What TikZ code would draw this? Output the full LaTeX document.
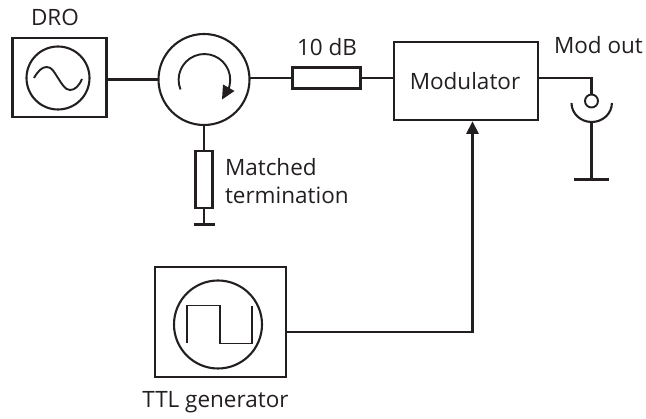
\documentclass[tikz,border=0pt]{standalone}
\usepackage{fontspec}
\setmainfont{Open Sans}
\usetikzlibrary{arrows.meta,calc}
\definecolor{ink}{HTML}{231F20}
\tikzset{
  box/.style={draw=ink,line width=2.1pt,rectangle,inner sep=0pt,outer sep=0pt},
  ring/.style={draw=ink,line width=2.1pt,circle,inner sep=0pt,outer sep=0pt},
  lbl/.style={text=ink,font=\fontsize{22.5}{26}\selectfont,inner sep=0pt,outer sep=0pt},
  wire/.style={draw=ink,line width=2.1pt},
  thinwire/.style={draw=ink,line width=1.9pt},
}
\begin{document}
\begin{tikzpicture}[x=1pt,y=-1pt]
\useasboundingbox (0,0) rectangle (646,419);
% boxes
\node[box,minimum width=94pt,minimum height=79pt] (dro) at (59.5,77.5) {};
\node[ring,minimum size=63pt] (droc) at (58,78) {};
\node[ring,minimum size=91pt] (circ) at (204,79.5) {};
\node[box,minimum width=68pt,minimum height=21pt] (att) at (326.5,78) {};
\node[box,minimum width=144pt,minimum height=78pt] (mod) at (466,81) {};
\node[box,minimum width=17pt,minimum height=57pt] (term) at (204,179.5) {};
\node[box,minimum width=131pt,minimum height=110pt] (ttl) at (220.5,322) {};
\node[ring,minimum size=88pt] (ttlc) at (218,324.5) {};
\node[ring,minimum size=13pt,line width=1.9pt] (ant) at (591.5,101) {};
% coordinates
\coordinate (gt) at (204,224.5);
\coordinate (gtl) at (193.5,224.5);
\coordinate (gtr) at (215,224.5);
\coordinate (ga) at (591.5,179.5);
\coordinate (gal) at (574,179.5);
\coordinate (gar) at (609,179.5);
\coordinate (dish) at (591.5,122);
\coordinate (modin) at (472.5,120);
\coordinate (c1) at (472.5,332);
% connectors
\draw[wire] (dro.east |- 0,79.5) -- (circ.west);
\draw[wire] (circ.east |- 0,78) -- (att.west);
\draw[wire] (att.east) -- (mod.west |- att.east);
\draw[wire,line join=miter] (mod.east |- 0,78) -- (ant.north |- 0,78) -- (ant.north);
\draw[wire] (circ.south) -- (term.north);
\draw[wire] (term.south) -- (gt);
\draw[wire] (gtl) -- (gtr);
\draw[wire] (dish) -- (ga);
\draw[wire] (gal) -- (gar);
\draw[wire,line join=miter] (ttl.east |- c1) -- (c1) -- (modin |- 0,134);
\fill[ink] (modin |- 0,121.5) -- (466,134) -- (479,134) -- cycle;
% dish
\draw[wire] (571.5,103) arc[start angle=180,end angle=0,x radius=20.2,y radius=19];
% sine
\draw[thinwire] (34,78) .. controls (38,71) and (42,67) .. (46.7,67) .. controls (52,67) and (54,72) .. (58,78) .. controls (62,84) and (65,90) .. (70,90) .. controls (75,90) and (79,86) .. (82,79);
% circulator arrow
\draw[thinwire] (180.5,89.5) arc[start angle=158,end angle=384,radius=25.8];
\fill[ink] (222,99.5) -- (234.5,91) -- (223,84.5) -- cycle;
% square wave
\draw[thinwire,line join=miter] (187,343) -- (187,305.5) -- (220,305.5) -- (220,343.5) -- (252,343.5) -- (252,306);
% labels
\node[lbl] (l1) at (55,17) {DRO};
\node[lbl] (l2) at (327,47) {10 dB};
\node[lbl] (l3) at (465,81) {Modulator};
\node[lbl,anchor=base west] (l4) at (554,54) {Mod out};
\node[lbl,anchor=base west] (l5) at (225,176) {Matched};
\node[lbl,anchor=base west] (l6) at (225,204) {termination};
\node[lbl] (l7) at (215.5,402) {TTL generator};
\end{tikzpicture}
\end{document}
